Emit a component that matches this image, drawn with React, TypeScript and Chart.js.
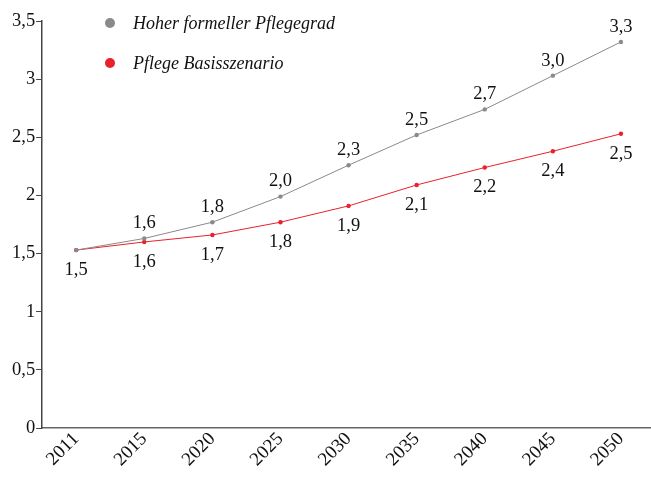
import React, { useEffect, useRef } from "react";
import { Chart, registerables } from "chart.js";

Chart.register(...registerables);

const years = ["2011", "2015", "2020", "2025", "2030", "2035", "2040", "2045", "2050"];
const hoherFormeller = [1.53, 1.63, 1.77, 1.99, 2.26, 2.52, 2.74, 3.03, 3.32];
const basisszenario = [1.53, 1.6, 1.66, 1.77, 1.91, 2.09, 2.24, 2.38, 2.53];
const seriesNames = ["Hoher formeller Pflegegrad", "Pflege Basisszenario"];
const seriesColors = ["#8a8a8a", "#e8212b"];
const FONT = "'Liberation Serif', 'DejaVu Serif', serif";

const fmt = (v: number) => v.toFixed(1).replace(".", ",");

const overlayPlugin = {
  id: "overlay",
  afterDatasetsDraw(chart: any) {
    const ctx = chart.ctx;
    ctx.save();
    ctx.font = `18.5px ${FONT}`;
    ctx.fillStyle = "#111";
    ctx.textAlign = "center";
    ctx.textBaseline = "middle";
    chart.data.datasets.forEach((ds: any, di: number) => {
      const meta = chart.getDatasetMeta(di);
      meta.data.forEach((pt: any, i: number) => {
        if (di === 0 && i === 0) return;
        const y = di === 0 ? pt.y - 15 : pt.y + 20;
        ctx.fillText(fmt(ds.data[i]), pt.x, y);
      });
    });
    // legend
    ctx.font = `italic 18px ${FONT}`;
    ctx.textAlign = "left";
    seriesNames.forEach((name, i) => {
      const ly = 23 + i * 40;
      ctx.beginPath();
      ctx.fillStyle = seriesColors[i];
      ctx.arc(110, ly, 5, 0, Math.PI * 2);
      ctx.fill();
      ctx.fillStyle = "#111";
      ctx.fillText(name, 133, ly + 1);
    });
    ctx.restore();
  },
};

export default function App() {
  const ref = useRef<HTMLCanvasElement>(null);
  useEffect(() => {
    document.body.style.margin = "0";
    const chart = new Chart(ref.current!, {
      type: "line",
      data: {
        labels: years,
        datasets: [
          {
            label: seriesNames[0],
            data: hoherFormeller,
            borderColor: seriesColors[0],
            backgroundColor: seriesColors[0],
            borderWidth: 1,
            pointRadius: 2.2,
            pointBorderWidth: 0,
          },
          {
            label: seriesNames[1],
            data: basisszenario,
            borderColor: seriesColors[1],
            backgroundColor: seriesColors[1],
            borderWidth: 1,
            pointRadius: 2.2,
            pointBorderWidth: 0,
          },
        ],
      },
      options: {
        animation: false,
        responsive: false,
        layout: { padding: { top: 21, right: 0, left: 11, bottom: 6 } },
        plugins: { legend: { display: false }, tooltip: { enabled: false } },
        scales: {
          x: {
            offset: true,
            grid: { display: false, drawOnChartArea: false, drawTicks: false },
            border: { display: true, color: "#666", width: 1.5 },
            ticks: {
              color: "#111",
              font: { family: FONT, size: 19 },
              maxRotation: 45,
              minRotation: 45,
              padding: 0,
            },
          },
          y: {
            min: 0,
            max: 3.5,
            grid: { drawOnChartArea: false, drawTicks: true, tickLength: 6, color: "#444" },
            border: { display: true, color: "#444", width: 1.5 },
            ticks: {
              stepSize: 0.5,
              color: "#111",
              font: { family: FONT, size: 18.5 },
              padding: 1,
              callback: (v: any) => String(v).replace(".", ","),
            },
          },
        },
      },
      plugins: [overlayPlugin],
    });
    return () => chart.destroy();
  }, []);
  return (
    <div style={{ width: 651, height: 477, overflow: "hidden" }}>
      <canvas ref={ref} width={659} height={477} style={{ display: "block" }} />
    </div>
  );
}
